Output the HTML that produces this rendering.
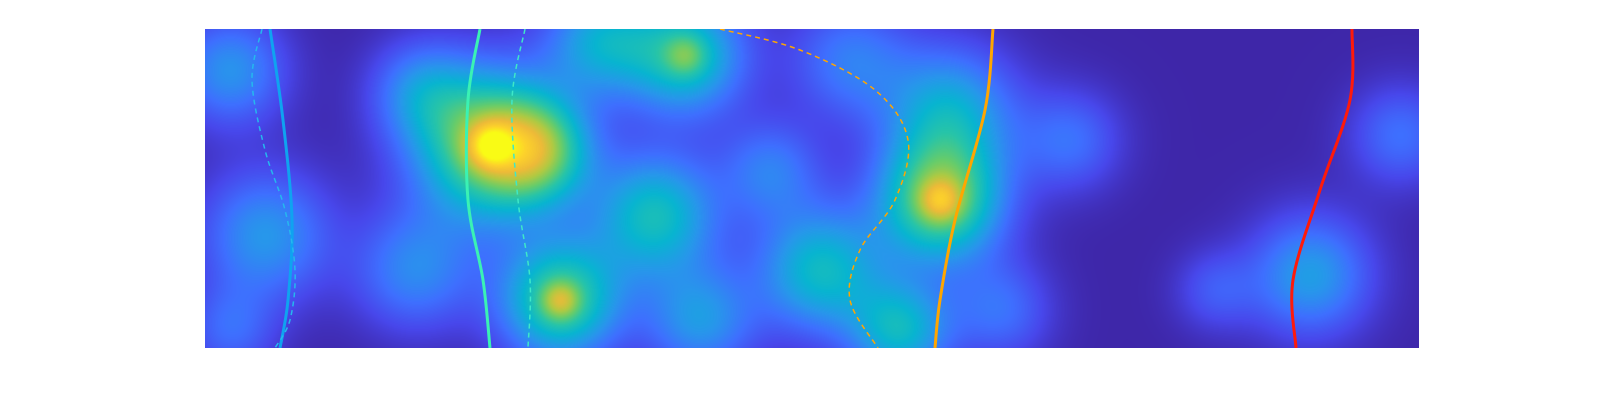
<!DOCTYPE html>
<html><head><meta charset="utf-8"><style>
html,body{margin:0;padding:0;background:#fff;width:1600px;height:400px;overflow:hidden}
#wrap{position:relative;width:1600px;height:400px}
canvas{position:absolute;left:205px;top:29px}
svg{position:absolute;left:0;top:0}
</style></head><body>
<div id="wrap">
<canvas id="heat" width="1214" height="319"></canvas>
<svg id="ov" width="1600" height="400">
<defs><clipPath id="clip"><rect x="205" y="29" width="1214" height="319"/></clipPath></defs>
<g id="curves" clip-path="url(#clip)"></g>
</svg>
</div>
<script>
// blob data (x,y in data units of 0..1214 by 0..319, top origin)
const blobX=[25,60,25,215,285,285,335,210,355,355,395,480,480,450,495,615,565,735,735,745,695,865,795,1105,1010,1195,645];
const blobY=[41,206,301,61,116,116,121,241,271,271,11,26,26,186,291,241,141,171,171,81,301,111,281,246,261,106,31];
const blobAmp=[0.29,0.3,0.18,0.23,0.66,0.3,0.38,0.26,0.55,0.22,0.34,0.46,0.15,0.44,0.3,0.42,0.23,0.62,0.22,0.35,0.4,0.2,0.2,0.32,0.14,0.2,0.23];
const blobRad=[55,65,45,50,75,22,50,60,60,18,55,60,20,62,55,62,50,62,20,65,50,50,50,60,40,50,60];
const xDomain=[0,1214], yDomain=[0,319];
const sx=v=>205+(v-xDomain[0])/(xDomain[1]-xDomain[0])*1214;
const sy=v=>29+(v-yDomain[0])/(yDomain[1]-yDomain[0])*319;

const curveBlue=[[65,0],[78,91],[87,191],[83,271],[75,319]];
const curveBlueDash=[[57,0],[47,51],[60,121],[80,181],[90,241],[85,291],[70,319]];
const curveGreen=[[275,0],[263,71],[263,171],[278,251],[285,319]];
const curveGreenDash=[[320,0],[307,71],[313,171],[325,251],[323,319]];
const curveOrange=[[788,0],[780,81],[750,191],[735,271],[730,319]];
const curveOrangeDash=[[515,0],[595,21],[670,61],[703,111],[690,171],[655,221],[645,271],[673,319]];
const curveRed=[[1147,0],[1145,71],[1115,161],[1088,251],[1091,319]];

const pal=[[0.2422,0.1504,0.6603],[0.2803,0.2782,0.9221],[0.2440,0.4358,0.9988],[0.1540,0.5902,0.9218],[0.0297,0.7082,0.8163],[0.1540,0.7700,0.6600],[0.4000,0.8000,0.4200],[0.6900,0.7900,0.2600],[0.9300,0.7300,0.2200],[0.9900,0.8200,0.1700],[0.977,0.984,0.081]];
function cmap(t){t=Math.max(0,Math.min(1,t))*10;const i=Math.min(9,Math.floor(t)),f=t-i;const a=pal[i],b=pal[i+1];return [0,1,2].map(k=>255*(a[k]+(b[k]-a[k])*f));}

const cv=document.getElementById('heat'),ctx=cv.getContext('2d');
const W=1214,H=319,img=ctx.createImageData(W,H);
const bx=blobX.map(v=>sx(v)-205),by=blobY.map(v=>sy(v)-29);
for(let y=0;y<H;y++)for(let x=0;x<W;x++){
 let s=0;
 for(let i=0;i<bx.length;i++){const dx=x-bx[i],dy=y-by[i],r=blobRad[i];const d2=(dx*dx+dy*dy)/(r*r);if(d2<9)s+=blobAmp[i]*Math.exp(-d2);}
 const c=cmap(s),o=(y*W+x)*4;img.data[o]=c[0];img.data[o+1]=c[1];img.data[o+2]=c[2];img.data[o+3]=255;
}
ctx.putImageData(img,0,0);

function path(pts){const p=pts.map(q=>[sx(q[0]),sy(q[1])]);let d='M'+p[0][0]+','+p[0][1];
 for(let i=0;i<p.length-1;i++){const p0=p[i-1]||p[i],p1=p[i],p2=p[i+1],p3=p[i+2]||p2;
 d+=' C'+(p1[0]+(p2[0]-p0[0])/6)+','+(p1[1]+(p2[1]-p0[1])/6)+' '+(p2[0]-(p3[0]-p1[0])/6)+','+(p2[1]-(p3[1]-p1[1])/6)+' '+p2[0]+','+p2[1];}
 return d;}
const g=document.getElementById('curves');
function add(pts,color,w,dash,name){const el=document.createElementNS('http://www.w3.org/2000/svg','path');
 el.setAttribute('d',path(pts));el.setAttribute('fill','none');el.setAttribute('stroke',color);el.setAttribute('stroke-width',w);
 if(dash)el.setAttribute('stroke-dasharray',dash);
 
 
 g.appendChild(el);}
add(curveBlue,'#0fa3f0',3,null,'blue-solid-curve');
add(curveBlueDash,'#25b8ee',1.5,'5,4','blue-dashed-curve');
add(curveGreen,'#3af2b4',3,null,'green-solid-curve');
add(curveGreenDash,'#3de8c8',1.5,'5,4','green-dashed-curve');
add(curveOrange,'#ffa600',3,null,'orange-solid-curve');
add(curveOrangeDash,'#ffa600',1.5,'5,4','orange-dashed-curve');
add(curveRed,'#ff1a0a',3,null,'red-solid-curve');
</script>
</body></html>
